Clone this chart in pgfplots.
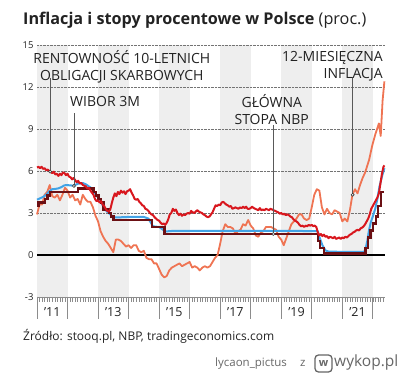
\documentclass[border=0pt]{standalone}
\usepackage{fontspec}
\setmainfont{Open Sans}
\usepackage{pgfplots}
\pgfplotsset{compat=1.18}
\definecolor{cred}{HTML}{D8171E}
\definecolor{cblue}{HTML}{42A3E6}
\definecolor{cbrown}{HTML}{6B1014}
\definecolor{corange}{HTML}{EF7453}
\definecolor{cband}{HTML}{EEEEEE}
\definecolor{ctext}{HTML}{222222}
\newcommand\annfont{\fontsize{14}{17}\selectfont}
\begin{document}
\begin{tikzpicture}
\path (0pt,0pt) rectangle (400pt,378pt);
\node[anchor=base west, inner sep=0pt, text=ctext] at (23pt,353pt) {\fontsize{16.2}{16}\selectfont\textbf{Inflacja i stopy procentowe w Polsce} (proc.)};
\begin{axis}[
  at={(37pt,81pt)}, anchor=south west, scale only axis,
  width=348pt, height=252pt,
  xmin=2011, xmax=2022.4, ymin=-3, ymax=15,
  set layers, clip=false,
  hide x axis,
  axis y line*=left,
  y axis line style={draw=none},
  ytick={-3,0,3,6,9,12,15},
  yticklabels={-3,0,3,6,9,12,15},
  ytick style={draw=none},
  yticklabel style={font=\fontsize{9.5}{10}\selectfont, text=ctext},
  ymajorgrids, grid style={densely dotted, black!55, line width=0.6pt},
]
% bands
\pgfonlayer{axis background}
\fill[cband] (axis cs:2011,-3) rectangle (axis cs:2012,15);
\fill[cband] (axis cs:2013,-3) rectangle (axis cs:2014,15);
\fill[cband] (axis cs:2015,-3) rectangle (axis cs:2016,15);
\fill[cband] (axis cs:2017,-3) rectangle (axis cs:2018,15);
\fill[cband] (axis cs:2019,-3) rectangle (axis cs:2020,15);
\fill[cband] (axis cs:2021,-3) rectangle (axis cs:2022,15);
\endpgfonlayer
% zero line
\addplot[black, line width=2.2pt] coordinates {(2011,0) (2022.4,0)};
% inflation
\addplot[corange, line width=1.8pt, line join=round] coordinates {
(2011.0,2.9)(2011.083,3.6)(2011.167,3.6)(2011.25,4.3)(2011.333,4.5)(2011.417,5.0)(2011.5,4.2)(2011.583,4.1)(2011.667,4.3)(2011.75,3.9)(2011.833,4.3)(2011.917,4.8)(2012.0,4.6)
(2012.083,4.1)(2012.167,4.3)(2012.25,3.9)(2012.333,4.0)(2012.417,3.6)(2012.5,4.3)(2012.583,4.0)(2012.667,3.8)(2012.75,3.8)(2012.833,3.4)(2012.917,2.8)(2013.0,2.4)
(2013.083,1.7)(2013.167,1.3)(2013.25,1.0)(2013.333,0.8)(2013.417,0.5)(2013.5,0.2)(2013.583,1.1)(2013.667,1.1)(2013.75,1.0)(2013.833,0.8)(2013.917,0.6)(2014.0,0.7)
(2014.083,0.5)(2014.167,0.7)(2014.25,0.7)(2014.333,0.3)(2014.417,0.2)(2014.5,0.3)(2014.583,-0.2)(2014.667,-0.3)(2014.75,-0.3)(2014.833,-0.6)(2014.917,-0.6)(2015.0,-1.0)
(2015.083,-1.4)(2015.167,-1.6)(2015.25,-1.5)(2015.333,-1.1)(2015.417,-0.9)(2015.5,-0.8)(2015.583,-0.7)(2015.667,-0.6)(2015.75,-0.8)(2015.833,-0.7)(2015.917,-0.6)(2016.0,-0.5)
(2016.083,-0.9)(2016.167,-0.8)(2016.25,-0.9)(2016.333,-1.1)(2016.417,-0.9)(2016.5,-0.8)(2016.583,-0.9)(2016.667,-0.8)(2016.75,-0.5)(2016.833,-0.2)(2016.917,0.0)(2017.0,0.8)
(2017.083,1.7)(2017.167,2.2)(2017.25,2.0)(2017.333,2.0)(2017.417,1.9)(2017.5,1.5)(2017.583,1.7)(2017.667,1.8)(2017.75,2.2)(2017.833,2.1)(2017.917,2.5)(2018.0,2.1)
(2018.083,1.9)(2018.167,1.4)(2018.25,1.3)(2018.333,1.6)(2018.417,1.7)(2018.5,2.0)(2018.583,2.0)(2018.667,2.0)(2018.75,1.9)(2018.833,1.8)(2018.917,1.3)(2019.0,1.1)
(2019.083,0.7)(2019.167,1.2)(2019.25,1.7)(2019.333,2.2)(2019.417,2.4)(2019.5,2.6)(2019.583,2.9)(2019.667,2.9)(2019.75,2.6)(2019.833,2.5)(2019.917,2.6)(2020.0,3.4)
(2020.083,4.3)(2020.167,4.7)(2020.25,4.6)(2020.333,3.4)(2020.417,2.9)(2020.5,3.3)(2020.583,3.0)(2020.667,2.9)(2020.75,3.2)(2020.833,3.1)(2020.917,3.0)(2021.0,2.4)
(2021.083,2.6)(2021.167,2.4)(2021.25,3.2)(2021.333,4.3)(2021.417,4.7)(2021.5,4.4)(2021.583,5.0)(2021.667,5.5)(2021.75,5.9)(2021.88,6.8)(2021.98,7.8)(2022.08,8.6)
(2022.2,9.4)(2022.26,8.5)(2022.32,11.0)(2022.38,12.4)};
% WIBOR 3M
\addplot[cblue, line width=2pt, line join=round] coordinates {
(2011.0,3.95)(2011.1,4.05)(2011.2,4.15)(2011.3,4.3)(2011.4,4.55)(2011.5,4.7)(2011.6,4.72)(2011.7,4.76)(2011.8,4.85)(2011.9,4.98)(2012.0,4.99)(2012.2,4.95)(2012.35,5.1)(2012.5,5.14)(2012.6,5.05)(2012.7,4.9)(2012.8,4.75)(2012.9,4.4)(2013.0,4.1)(2013.1,3.8)(2013.2,3.3)(2013.3,3.1)(2013.4,2.9)(2013.5,2.72)(2013.6,2.68)(2014.0,2.72)(2014.5,2.72)(2014.65,2.6)(2014.8,2.05)(2015.0,2.0)(2015.1,1.85)(2015.2,1.68)(2015.5,1.73)(2016.0,1.72)(2017.0,1.73)(2018.0,1.72)(2019.0,1.72)(2020.2,1.71)(2020.22,1.5)(2020.27,1.17)(2020.35,0.7)(2020.45,0.32)(2020.55,0.25)(2021.0,0.22)(2021.72,0.23)(2021.77,0.5)(2021.82,1.0)(2021.87,1.7)(2021.93,2.3)(2022.0,2.75)(2022.08,3.3)(2022.15,4.0)(2022.22,4.9)(2022.3,5.6)(2022.38,6.2)};
% NBP reference rate
\addplot[cbrown, line width=2.4pt, const plot] coordinates {
(2011.0,3.5)(2011.05,3.75)(2011.27,4.0)(2011.35,4.25)(2011.43,4.5)(2012.35,4.75)(2012.85,4.5)(2012.93,4.25)(2013.02,4.0)(2013.1,3.75)(2013.18,3.25)(2013.35,3.0)(2013.43,2.75)(2013.51,2.5)(2014.76,2.0)(2015.18,1.5)(2020.21,1.0)(2020.27,0.5)(2020.41,0.1)(2021.76,0.5)(2021.84,1.25)(2021.93,1.75)(2022.01,2.25)(2022.1,2.75)(2022.18,3.5)(2022.26,4.5)(2022.38,4.5)};
% 10-year yield
\addplot[cred, line width=2pt, line join=round] coordinates {
(2011.0,6.25)(2011.05,6.3)(2011.1,6.2)(2011.15,6.3)(2011.2,6.15)(2011.25,6.2)(2011.3,6.05)(2011.35,6.1)(2011.4,6.0)(2011.45,5.95)(2011.5,5.85)(2011.55,5.95)(2011.6,5.75)(2011.65,5.8)(2011.7,5.65)(2011.75,5.8)(2011.8,5.7)(2011.85,5.9)(2011.9,5.85)(2011.95,5.7)
(2012.0,5.8)(2012.05,5.6)(2012.1,5.55)(2012.15,5.4)(2012.2,5.5)(2012.25,5.35)(2012.3,5.2)(2012.35,5.3)(2012.4,5.1)(2012.45,5.15)(2012.5,5.0)(2012.55,4.95)(2012.6,4.9)(2012.65,4.75)(2012.7,4.8)(2012.75,4.6)(2012.8,4.45)(2012.85,4.3)(2012.9,4.0)(2012.95,3.85)
(2013.0,3.9)(2013.05,3.75)(2013.1,3.85)(2013.15,3.6)(2013.2,3.5)(2013.25,3.3)(2013.3,3.15)(2013.35,3.1)(2013.4,3.25)(2013.45,3.7)(2013.5,4.1)(2013.55,4.4)(2013.6,4.2)(2013.65,4.5)(2013.7,4.35)(2013.75,4.6)(2013.8,4.45)(2013.85,4.55)(2013.9,4.35)(2013.95,4.55)
(2014.0,4.6)(2014.05,4.7)(2014.1,4.45)(2014.15,4.25)(2014.2,4.0)(2014.25,3.95)(2014.3,4.0)(2014.35,3.8)(2014.4,3.7)(2014.45,3.55)(2014.5,3.5)(2014.55,3.3)(2014.6,3.25)(2014.65,3.15)(2014.7,3.0)(2014.75,2.9)(2014.8,2.85)(2014.85,2.7)(2014.9,2.6)(2014.95,2.5)
(2015.0,2.45)(2015.05,2.3)(2015.1,2.2)(2015.15,2.25)(2015.2,2.15)(2015.25,2.3)(2015.3,2.55)(2015.35,2.9)(2015.4,3.0)(2015.45,3.3)(2015.5,3.15)(2015.55,3.25)(2015.6,3.0)(2015.65,2.85)(2015.7,2.95)(2015.75,2.8)(2015.8,2.9)(2015.85,2.85)(2015.9,2.95)(2015.95,3.0)
(2016.0,2.95)(2016.05,3.15)(2016.1,3.05)(2016.15,3.0)(2016.2,3.1)(2016.25,3.2)(2016.3,3.1)(2016.35,3.05)(2016.4,3.0)(2016.45,2.9)(2016.5,2.85)(2016.55,2.75)(2016.6,2.7)(2016.65,2.75)(2016.7,2.9)(2016.75,3.05)(2016.8,3.3)(2016.85,3.55)(2016.9,3.5)(2016.95,3.6)
(2017.0,3.55)(2017.05,3.75)(2017.1,3.8)(2017.15,3.7)(2017.2,3.6)(2017.25,3.55)(2017.3,3.45)(2017.35,3.5)(2017.4,3.3)(2017.45,3.35)(2017.5,3.4)(2017.55,3.35)(2017.6,3.3)(2017.65,3.4)(2017.7,3.35)(2017.75,3.45)(2017.8,3.35)(2017.85,3.45)(2017.9,3.3)(2017.95,3.3)
(2018.0,3.35)(2018.05,3.45)(2018.1,3.35)(2018.15,3.3)(2018.2,3.25)(2018.25,3.2)(2018.3,3.35)(2018.35,3.2)(2018.4,3.25)(2018.45,3.2)(2018.5,3.3)(2018.55,3.25)(2018.6,3.2)(2018.65,3.3)(2018.7,3.25)(2018.75,3.2)(2018.8,3.15)(2018.85,3.1)(2018.9,3.05)(2018.95,2.95)
(2019.0,3.0)(2019.05,2.9)(2019.1,2.95)(2019.15,2.85)(2019.2,2.9)(2019.25,2.85)(2019.3,2.75)(2019.35,2.7)(2019.4,2.55)(2019.45,2.45)(2019.5,2.4)(2019.55,2.3)(2019.6,2.15)(2019.65,2.05)(2019.7,2.1)(2019.75,2.0)(2019.8,2.1)(2019.85,2.05)(2019.9,2.15)(2019.95,2.1)
(2020.0,2.15)(2020.05,2.05)(2020.1,2.1)(2020.15,2.0)(2020.2,1.6)(2020.25,1.4)(2020.3,1.5)(2020.35,1.35)(2020.4,1.45)(2020.45,1.3)(2020.5,1.35)(2020.55,1.2)(2020.6,1.3)(2020.65,1.25)(2020.7,1.2)(2020.75,1.3)(2020.8,1.15)(2020.85,1.2)(2020.9,1.25)(2020.95,1.15)
(2021.0,1.25)(2021.05,1.2)(2021.1,1.3)(2021.15,1.25)(2021.2,1.35)(2021.25,1.45)(2021.3,1.5)(2021.35,1.6)(2021.4,1.65)(2021.45,1.75)(2021.5,1.8)(2021.55,1.75)(2021.6,1.9)(2021.65,1.95)(2021.7,2.05)(2021.75,2.2)(2021.8,2.4)(2021.85,2.6)(2021.9,2.9)(2021.95,3.3)
(2022.0,3.5)(2022.05,3.7)(2022.1,3.9)(2022.15,4.1)(2022.2,4.4)(2022.25,5.1)(2022.3,5.8)(2022.35,6.3)(2022.38,6.4)};
% leaders
\addplot[black!65, line width=0.6pt] coordinates {(2011.43,5.95) (2011.43,12.64)};
\addplot[black!65, line width=0.6pt] coordinates {(2012.21,4.93) (2012.21,10.14)};
\addplot[black!65, line width=0.6pt] coordinates {(2018.74,1.5) (2018.74,9.29)};
\addplot[black!65, line width=0.6pt] coordinates {(2021.34,4.3) (2021.34,12.7)};
\addplot[only marks, mark=*, mark size=1.5pt, mark options={fill=white, draw=black!80, line width=0.6pt}] coordinates {(2011.43,5.95) (2012.21,4.93) (2018.74,1.5) (2021.34,4.3)};
% annotations
\node[align=center, text=ctext, font=\annfont, inner sep=0pt] at (axis cs:2013.78,13.46) {RENTOWNOŚĆ 10-LETNICH\\OBLIGACJI SKARBOWYCH};
\node[align=center, text=ctext, font=\annfont, inner sep=0pt] at (axis cs:2013.23,10.93) {WIBOR 3M};
\node[align=center, text=ctext, font=\annfont, inner sep=0pt] at (axis cs:2018.69,10.36) {GŁÓWNA\\STOPA NBP};
\node[align=right, text=ctext, font=\annfont, inner sep=0pt, anchor=east] at (axis cs:2022.33,13.46) {12-MIESIĘCZNA\\INFLACJA};
\end{axis}
% x axis line, ticks and labels (axis spans 37pt..385pt, 11.4 years)
\draw[black!45, line width=0.8pt] (37pt,81pt) -- (385pt,81pt);
\foreach \m in {0,...,136} {\draw[black!45, line width=0.5pt] ({(37+\m*2.54386)*1pt},81pt) -- ++(0pt,-5pt);}
\foreach \k in {0,...,11} {\draw[black!45, line width=0.8pt] ({(37+\k*30.5263)*1pt},81pt) -- ++(0pt,-22pt);}
\foreach \k/\lab in {0/’11,2/’13,4/’15,6/’17,8/’19,10/’21} {\node[text=ctext, inner sep=0pt, font=\fontsize{12.5}{12}\selectfont] at ({(37+(\k+0.5)*30.5263)*1pt},66pt) {\lab};}
\node[anchor=base west, inner sep=0pt, text=ctext] at (23pt,37pt) {\fontsize{12}{12}\selectfont Źródło: stooq.pl, NBP, tradingeconomics.com};
\node[anchor=base west, inner sep=0pt, text=black!60] at (215pt,11pt) {\fontsize{11.5}{11}\selectfont lycaon\_pictus};
\node[anchor=base west, inner sep=0pt, text=black!60] at (300pt,11pt) {\fontsize{11.5}{11}\selectfont z};
\draw[black!60, line width=1.3pt, rounded corners=3.5pt] (315pt,6pt) rectangle (332pt,23pt);
\node[text=black!60, inner sep=0pt] at (323.5pt,14.5pt) {\fontsize{11}{11}\selectfont\textbf{w}};
\node[anchor=base west, inner sep=0pt, text=black!60] at (334pt,11pt) {\fontsize{15.5}{15}\selectfont wykop.pl};
\end{tikzpicture}
\end{document}
